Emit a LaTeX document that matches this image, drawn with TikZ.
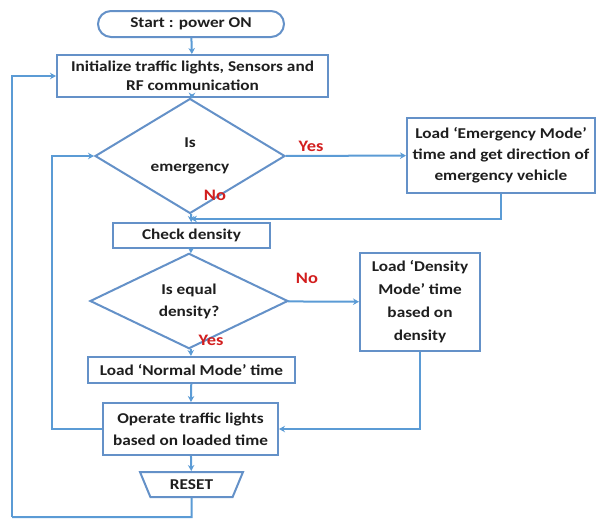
\documentclass[tikz,border=0pt]{standalone}
\usepackage{fontspec}
\setmainfont{Carlito}[FakeStretch=1.15]
\usetikzlibrary{shapes.geometric,shapes.misc,arrows.meta,calc}
\definecolor{flowblue}{RGB}{91,155,213}
\definecolor{boxblue}{RGB}{100,145,200}
\definecolor{txt}{RGB}{30,30,30}
\definecolor{lblred}{RGB}{210,30,30}
\tikzset{
  base/.style={draw=boxblue, line width=2pt, fill=white, text=txt,
    font=\bfseries\fontsize{15}{19}\selectfont, align=center, inner sep=1pt},
  procbox/.style={base, rectangle},
  termbox/.style={base, rounded rectangle},
  decbox/.style={base, diamond, inner sep=0pt, font=\bfseries\fontsize{15}{24}\selectfont},
  resetbox/.style={base, trapezium, shape border rotate=180, trapezium angle=49,
    trapezium stretches body},
  flow/.style={draw=flowblue, line width=2pt, -{Stealth[length=6pt,width=6.5pt]}},
  plain/.style={draw=flowblue, line width=2pt},
  answer/.style={text=lblred, font=\bfseries\fontsize{16}{18}\selectfont, inner sep=0pt}
}
\begin{document}
\begin{tikzpicture}[x=1pt,y=-1pt]
\useasboundingbox (0,0) rectangle (600,520);

% main column of steps
\node[termbox, minimum width=188pt, minimum height=26pt] (start) at (191,24) {Start : power ON};
\node[procbox, minimum width=271pt, minimum height=42pt] (init) at (192.5,76)
  {Initialize traffic lights, Sensors and\\RF communication};
\node[decbox, minimum width=190pt, minimum height=65pt] (emq) at (190,156) {Is\\emergency};
\node[procbox, minimum width=188pt, minimum height=75pt, font=\bfseries\fontsize{15}{21}\selectfont] (emg) at (501,155.5)
  {Load `Emergency Mode'\\time and get direction of\\emergency vehicle};
\node[procbox, minimum width=157pt, minimum height=25pt] (check) at (191.5,235.5) {Check density};
\node[decbox, minimum width=198pt, minimum height=58pt, font=\bfseries\fontsize{15}{22}\selectfont] (eqd) at (189,301) {Is equal\\density?};
\node[procbox, minimum width=120pt, minimum height=98pt, font=\bfseries\fontsize{15}{23}\selectfont] (dens) at (420,302)
  {Load `Density\\Mode' time\\based on\\density};
\node[procbox, minimum width=207pt, minimum height=26pt] (normal) at (191.5,370) {Load `Normal Mode' time};
\node[procbox, minimum width=175pt, minimum height=52pt, font=\bfseries\fontsize{15}{22}\selectfont] (operate) at (190.5,429)
  {Operate traffic lights\\based on loaded time};
\node[resetbox, minimum width=103pt, minimum height=25pt] (reset) at (191.5,484.5) {RESET};

% branch labels
\node[answer] (yes1) at (311,146) {Yes};
\node[answer] (no1) at (215,195) {No};
\node[answer] (no2) at (307,278) {No};
\node[answer] (yes2) at (211,340) {Yes};

% routing points
\coordinate (merge) at ($(emq.south)!0.6!(check.north)$);
\coordinate (bottom) at (191.5,517);
\coordinate (outer) at (12,517);
\coordinate (inner) at (52,429);

% connectors
\draw[flow] (start) -- (init);
\draw[flow] (init) -- (emq);
\draw[flow] (emq) -- (emg);
\draw[flow] (emq) -- (check);
\draw[flow] (emg.south) |- (merge);
\draw[flow] (check) -- (eqd);
\draw[flow] (eqd) -- (dens);
\draw[flow] (eqd) -- (normal);
\draw[flow] (normal) -- (operate);
\draw[flow] (dens.south) |- (operate.east);
\draw[flow] (operate.west) -- (inner) |- (emq.west);
\draw[flow] (operate) -- (reset);
\draw[plain] (reset.south) -- (bottom) -- (outer);
\draw[flow] (outer) |- (init.west);
\end{tikzpicture}
\end{document}
